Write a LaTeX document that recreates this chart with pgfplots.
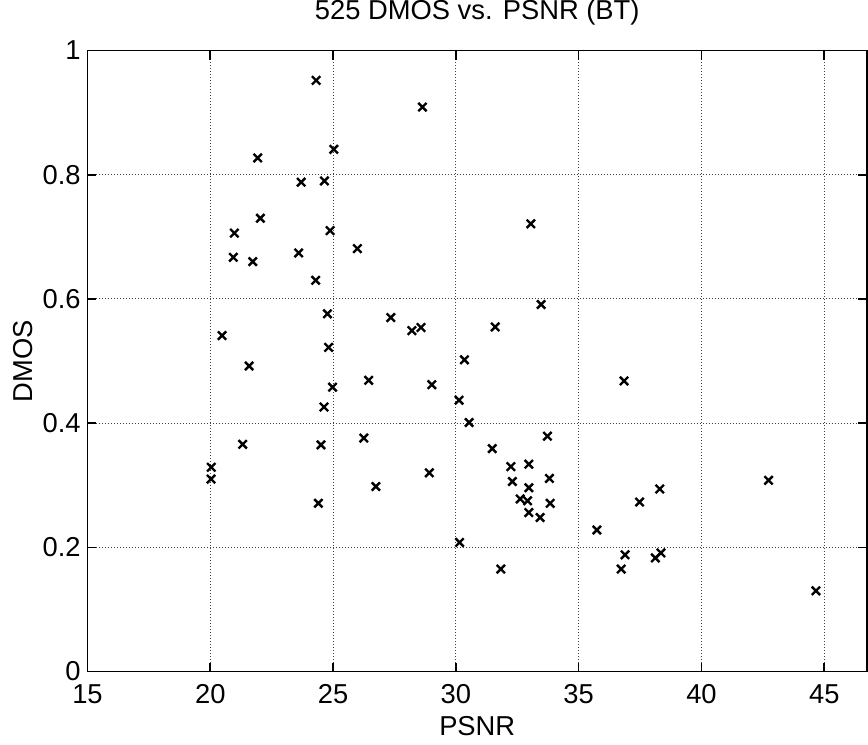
\documentclass[border=0pt]{standalone}
\usepackage{pgfplots}
\pgfplotsset{compat=1.18}
\usepackage{fontspec}
\setmainfont{Liberation Sans}
\pgfplotstableread{
x y
24.31 0.952
25.03 0.841
21.93 0.827
23.70 0.788
24.65 0.790
22.04 0.730
24.88 0.710
20.98 0.706
25.99 0.681
23.60 0.674
20.94 0.667
21.73 0.660
24.29 0.630
24.77 0.576
20.48 0.541
28.64 0.909
33.05 0.721
33.47 0.591
27.35 0.570
28.21 0.549
28.58 0.554
31.60 0.555
24.82 0.522
21.58 0.492
26.45 0.469
24.98 0.458
24.63 0.426
21.32 0.366
24.51 0.365
26.25 0.376
20.04 0.329
20.03 0.310
26.74 0.298
24.40 0.271
30.35 0.502
29.02 0.462
36.85 0.468
30.13 0.437
30.54 0.401
33.73 0.379
31.48 0.359
32.24 0.330
32.97 0.334
28.92 0.320
33.81 0.311
32.30 0.306
32.97 0.296
32.62 0.278
32.92 0.275
33.84 0.271
32.97 0.256
33.43 0.248
37.48 0.273
38.30 0.294
35.74 0.228
30.15 0.208
36.89 0.188
38.12 0.183
36.73 0.165
31.83 0.165
42.73 0.308
38.35 0.191
44.66 0.130
}\datatable
\begin{document}
\begin{tikzpicture}
\begin{axis}[
  scale only axis,
  width=584.6pt, height=465.75pt,
  xmin=15, xmax=46.74, ymin=0, ymax=1,
  xtick={15,20,25,30,35,40,45},
  ytick={0,0.2,0.4,0.6,0.8,1},
  yticklabels={0,0.2,0.4,0.6,0.8,1},
  tick align=inside,
  major tick length=6.75pt,
  every tick/.style={black, line width=1.2pt},
  axis line style={black, line width=1.3pt},
  grid=major,
  major grid style={black!75, line width=0.75pt, dash pattern=on 0.75pt off 1.5pt},
  /pgf/number format/assume math mode=true,
  ticklabel style={font=\fontsize{20.5}{24}\selectfont},
  xticklabel style={anchor=base, inner sep=0pt, yshift=-23.6pt},
  yticklabel style={anchor=east, inner sep=0pt, xshift=-4.9pt},
  title={525 DMOS vs. PSNR (BT)},
  title style={font=\fontsize{20.5}{24}\selectfont, at={(axis description cs:0.5,1)}, anchor=base, yshift=16.9pt},
  xlabel={PSNR},
  xlabel style={font=\fontsize{20.5}{24}\selectfont, at={(axis description cs:0.5,0)}, anchor=base, yshift=-47.6pt},
  ylabel={DMOS},
  ylabel style={font=\fontsize{20.5}{24}\selectfont, at={(axis description cs:-0.0828,0.5)}, anchor=center},
]
\addplot[only marks, mark=x, mark size=4.4pt, line width=1.8pt, black] table[x=x, y=y] {\datatable};
\end{axis}
\pgfresetboundingbox
\path[use as bounding box] ([shift={(-65.6pt,-54.4pt)}]current axis.south west) rectangle ([shift={(0.75pt,37.9pt)}]current axis.north east);
\end{tikzpicture}
\end{document}
